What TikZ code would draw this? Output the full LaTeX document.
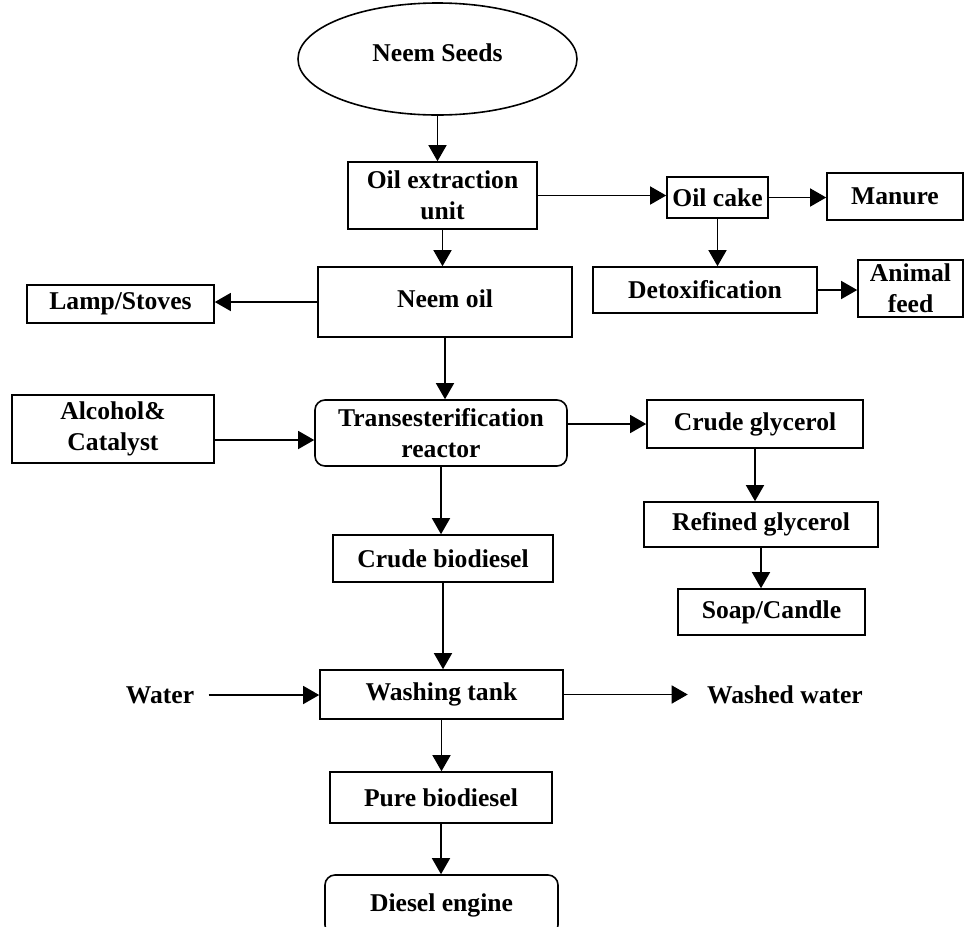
\documentclass[tikz,border=0pt]{standalone}
\usepackage{fontspec}
\setmainfont{Liberation Serif}
\usetikzlibrary{arrows.meta,shapes.geometric}
\tikzstyle{unit} = [draw, line width=0.8pt, inner sep=0pt, align=center]
\tikzstyle{rnd} = [unit, rounded corners=5pt]
\tikzstyle{flow} = [style={-{Triangle[length=8pt,width=9pt]},line width=0.7pt}]

\begin{document}
\begin{tikzpicture}[x=0.5pt,y=-0.5pt,font=\fontsize{12.8}{15.5}\selectfont\bfseries]
    \clip (0,0) rectangle (965,927);
    % main line
    \node[unit, ellipse, minimum width=139.5pt, minimum height=56pt] (seeds) at (437.5,59) {\raisebox{6pt}{Neem Seeds}};
    \node[unit, minimum width=94.5pt, minimum height=33.5pt] (extract) at (442.5,195.5) {Oil extraction\\unit};
    \node[unit, minimum width=127pt, minimum height=35pt] (neemoil) at (445,302) {\raisebox{3.5pt}{Neem oil}};
    \node[rnd, minimum width=126pt, minimum height=33pt] (trans) at (441,433) {Transesterification\\reactor};
    \node[unit, minimum width=110pt, minimum height=23.5pt] (crudebio) at (443,558.5) {Crude biodiesel};
    \node[unit, minimum width=121.5pt, minimum height=24.5pt] (washing) at (441.5,694.5) {Washing tank};
    \node[unit, minimum width=111pt, minimum height=25.5pt] (pure) at (441,797.5) {Pure biodiesel};
    \node[rnd, minimum width=116.5pt, minimum height=30pt] (engine) at (441.5,905) {Diesel engine};
    % side products
    \node[unit, minimum width=50.5pt, minimum height=20.5pt] (cake) at (717.5,197.5) {Oil cake};
    \node[unit, minimum width=68pt, minimum height=23.5pt] (manure) at (895,196.5) {Manure};
    \node[unit, minimum width=112pt, minimum height=23pt] (detox) at (705,290) {Detoxification};
    \node[unit, minimum width=52.5pt, minimum height=28.5pt] (feed) at (910.5,288.5) {Animal\\feed};
    \node[unit, minimum width=93.5pt, minimum height=19pt] (lamp) at (120.5,304) {Lamp/Stoves};
    \node[unit, minimum width=101pt, minimum height=34pt] (alcohol) at (113,429) {Alcohol\&\\Catalyst};
    \node[unit, minimum width=108pt, minimum height=24pt] (crudegly) at (755,424) {Crude glycerol};
    \node[unit, minimum width=117pt, minimum height=22.5pt] (refined) at (761,524.5) {Refined glycerol};
    \node[unit, minimum width=93.5pt, minimum height=23pt] (soap) at (771.5,612) {Soap/Candle};
    \node[inner xsep=7pt] (water) at (160,695) {Water};
    \node[inner xsep=9.5pt] (washed) at (785,695) {Washed water};
    % connectors
    \draw[flow] (seeds.south) -- (seeds.south |- extract.north);
    \draw[flow] (extract.south) -- (extract.south |- neemoil.north);
    \draw[flow] (extract.east) -- (extract.east -| cake.west);
    \draw[flow] (cake.east) -- (cake.east -| manure.west);
    \draw[flow] (cake.south) -- (cake.south |- detox.north);
    \draw[flow] (detox.east) -- (detox.east -| feed.west);
    \draw[flow] (neemoil.west) -- (neemoil.west -| lamp.east);
    \draw[flow] (neemoil.south) -- (neemoil.south |- trans.north);
    \draw[flow] ([yshift=-3.5pt]trans.west -| alcohol.east) -- ([yshift=-3.5pt]trans.west);
    \draw[flow] (crudegly.west -| trans.east) -- (crudegly.west);
    \draw[flow] (crudegly.south) -- (crudegly.south |- refined.north);
    \draw[flow] (refined.south) -- (refined.south |- soap.north);
    \draw[flow] (trans.south) -- (trans.south |- crudebio.north);
    \draw[flow] (crudebio.south) -- (crudebio.south |- washing.north);
    \draw[flow] (water.east) -- (water.east -| washing.west);
    \draw[flow] (washing.east) -- (washing.east -| washed.west);
    \draw[flow] (washing.south) -- (washing.south |- pure.north);
    \draw[flow] (pure.south) -- (pure.south |- engine.north);
\end{tikzpicture}
\end{document}
